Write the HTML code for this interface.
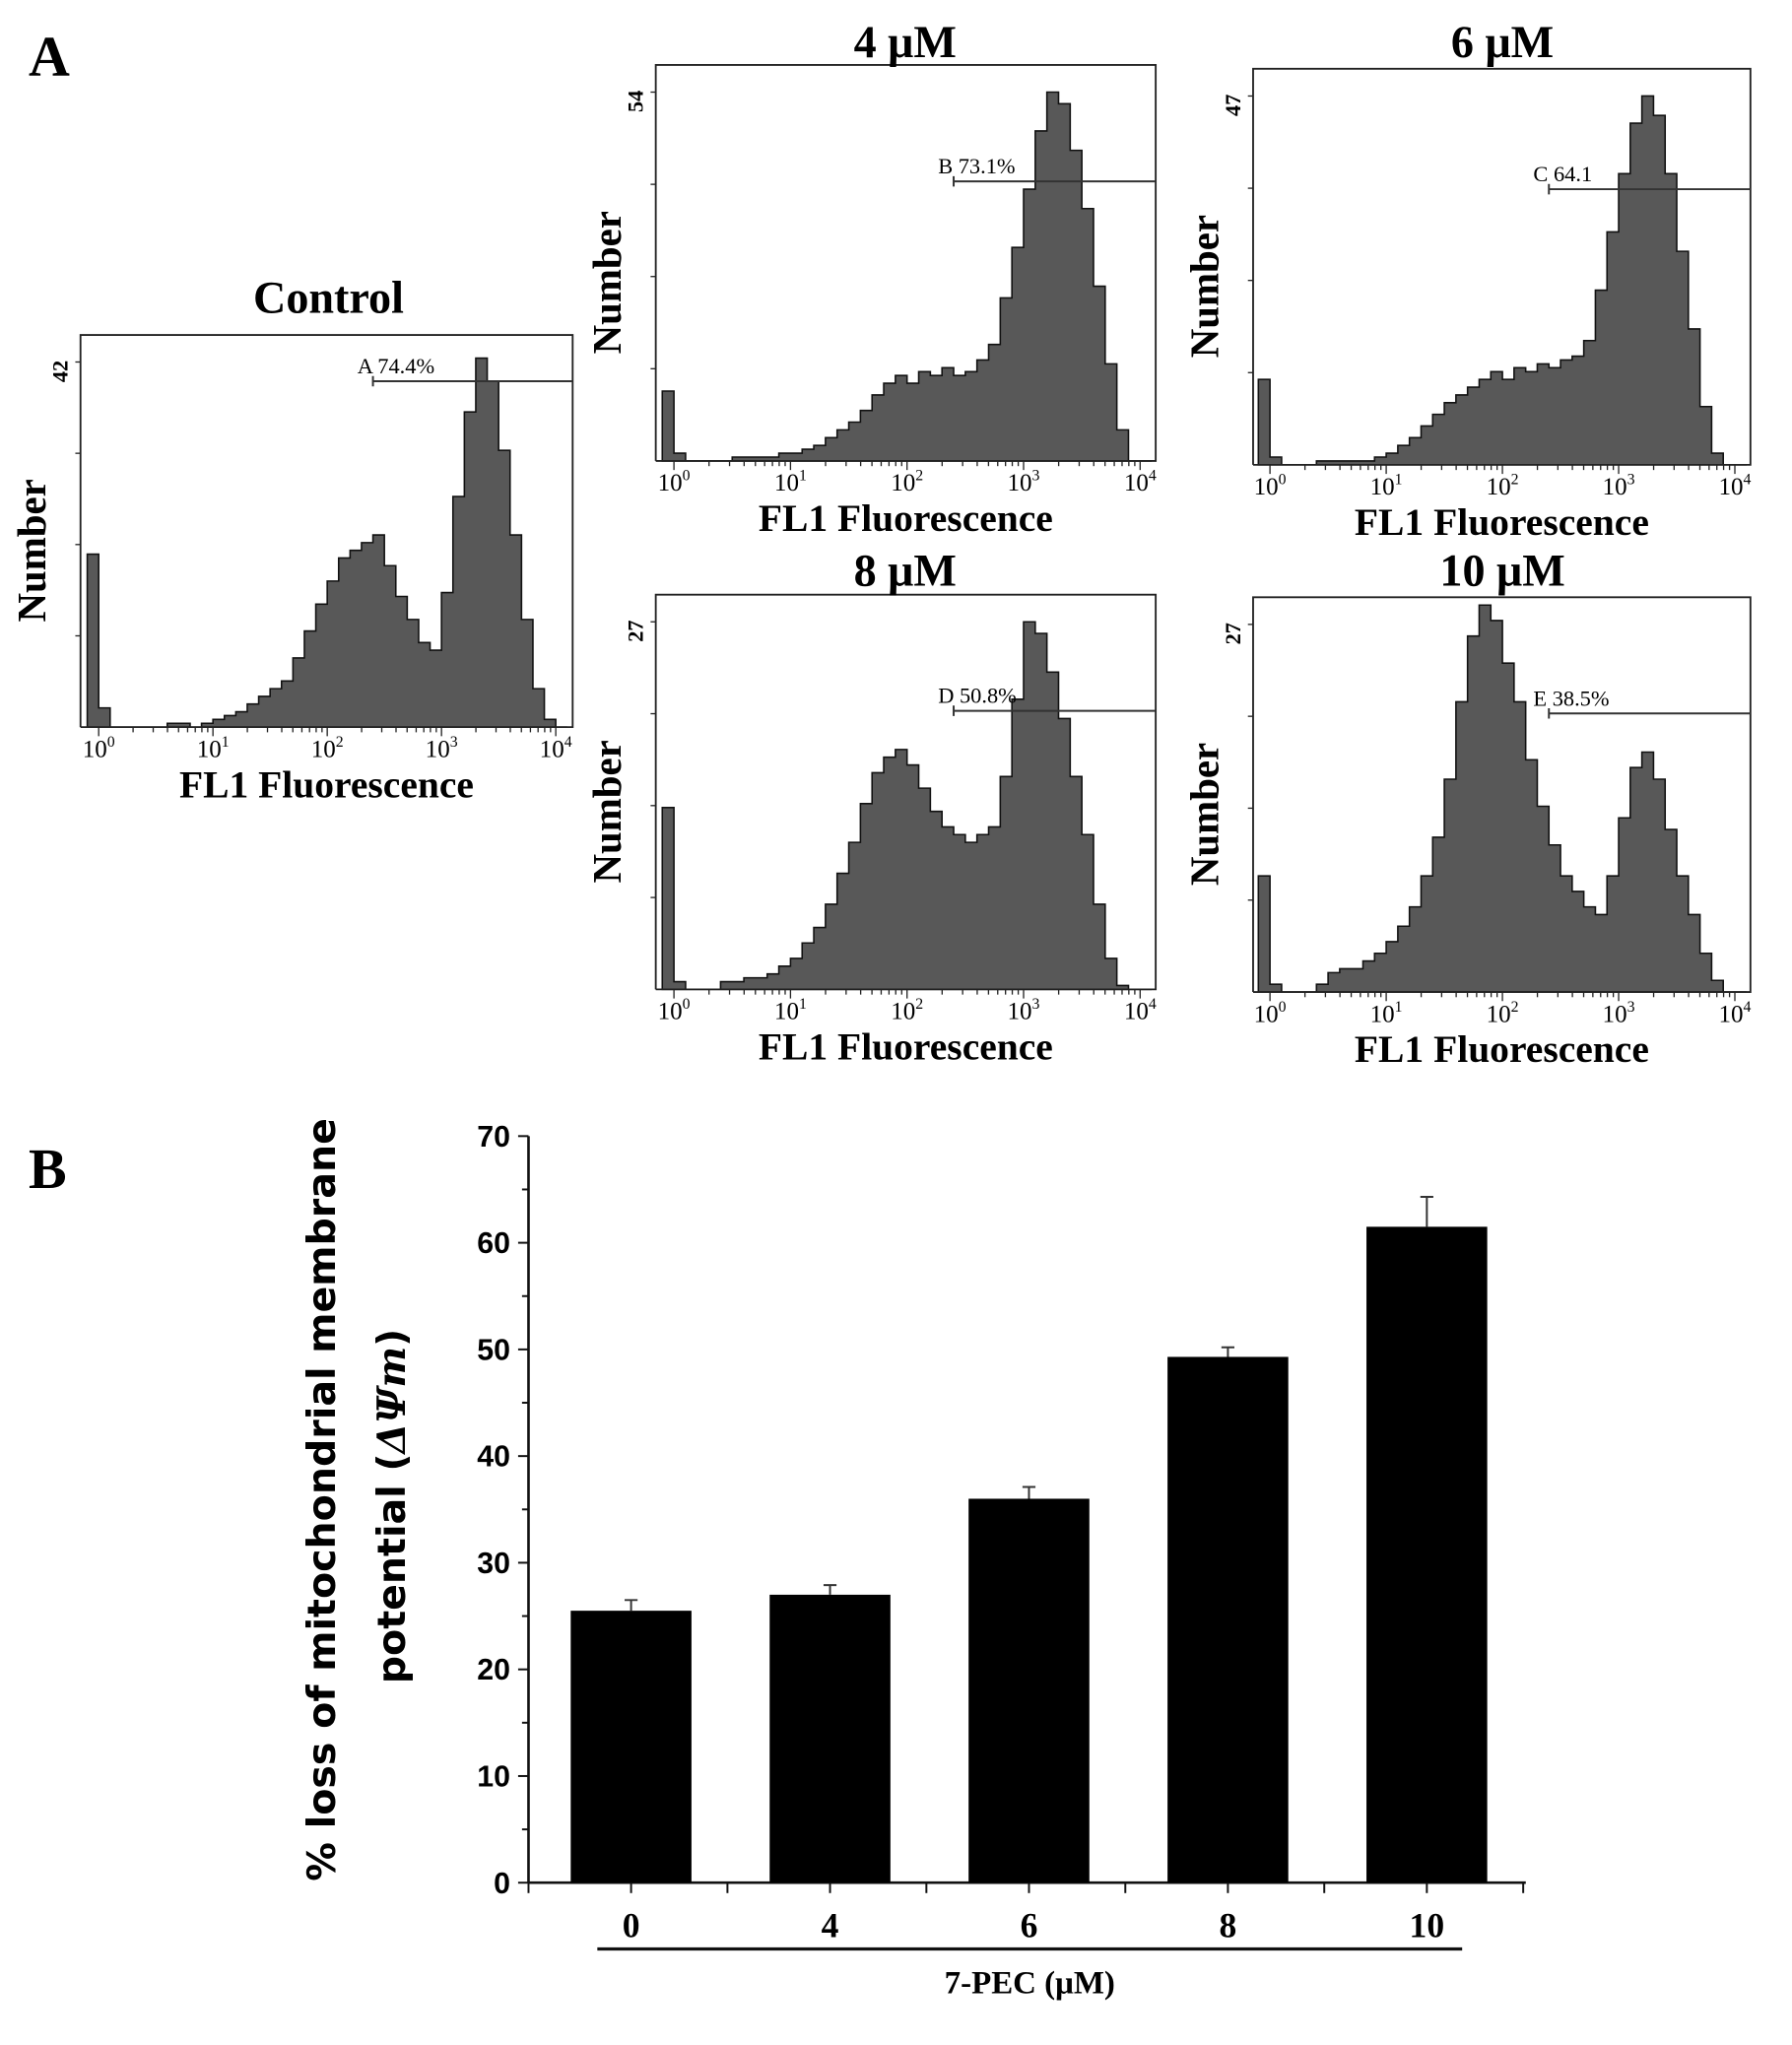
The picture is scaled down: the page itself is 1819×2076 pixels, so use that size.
<!DOCTYPE html>
<html><head><meta charset="utf-8"><style>
html,body{margin:0;padding:0;background:#fff;}
svg{display:block;}
</style></head><body>
<svg id="fig" xmlns="http://www.w3.org/2000/svg" width="1819" height="2076" viewBox="0 0 1380 1575" preserveAspectRatio="none">
<text x="22" y="58" font-family="Liberation Serif, serif" font-size="44" font-weight="bold">A</text>
<text x="22" y="915" font-family="Liberation Serif, serif" font-size="44" font-weight="bold">B</text>
<g id="hists"></g>
<g id="bars"></g>
</svg>
<script>
// ---- Histogram data (fraction of y max), bins every 0.1 decade from -0.1 to 4.0 ----
const binStart = -0.1;
const binStep = 0.1;
const controlCounts = [0.45,0.05,0,0,0,0,0,0.01,0.01,0,0.01,0.02,0.03,0.04,0.06,0.08,0.1,0.12,0.18,0.25,0.32,0.38,0.44,0.46,0.48,0.5,0.42,0.34,0.28,0.22,0.2,0.35,0.6,0.82,0.96,0.9,0.72,0.5,0.28,0.1,0.02,0];
const uM4Counts = [0.18,0.02,0,0,0,0,0.01,0.01,0.01,0.01,0.02,0.02,0.03,0.04,0.06,0.08,0.1,0.13,0.17,0.2,0.22,0.2,0.23,0.22,0.24,0.22,0.23,0.26,0.3,0.42,0.55,0.7,0.85,0.95,0.92,0.8,0.65,0.45,0.25,0.08,0,0];
const uM6Counts = [0.22,0.02,0,0,0,0.01,0.01,0.01,0.01,0.01,0.02,0.03,0.05,0.07,0.1,0.13,0.16,0.18,0.2,0.22,0.24,0.22,0.25,0.24,0.26,0.25,0.27,0.28,0.32,0.45,0.6,0.75,0.88,0.95,0.9,0.75,0.55,0.35,0.15,0.03,0,0];
const uM8Counts = [0.47,0.02,0,0,0,0.02,0.02,0.03,0.03,0.04,0.06,0.08,0.12,0.16,0.22,0.3,0.38,0.48,0.56,0.6,0.62,0.58,0.52,0.46,0.42,0.4,0.38,0.4,0.42,0.55,0.75,0.95,0.92,0.82,0.7,0.55,0.4,0.22,0.08,0.01,0,0];
const uM10Counts = [0.3,0.02,0,0,0,0.02,0.05,0.06,0.06,0.08,0.1,0.13,0.17,0.22,0.3,0.4,0.55,0.75,0.92,1.0,0.96,0.85,0.75,0.6,0.48,0.38,0.3,0.26,0.22,0.2,0.3,0.45,0.58,0.62,0.55,0.42,0.3,0.2,0.1,0.03,0,0];
const histTitles = ["Control","4 μM","6 μM","8 μM","10 μM"];
const histYMax = ["42","54","47","27","27"];
const gateLabels = ["A  74.4%","B 73.1%","C 64.1","D 50.8%","E 38.5%"];
const gateStart = [2.4,2.4,2.4,2.4,2.4];
const gateLevel = [0.9,0.72,0.71,0.72,0.72];

const NS = "http://www.w3.org/2000/svg";
function mk(tag, attrs, parent){const e=document.createElementNS(NS,tag);for(const k in attrs)e.setAttribute(k,attrs[k]);parent.appendChild(e);return e;}

const panels = [
 {x0:62,x1:441,y0:258,y1:560,d0:76,d1:428,data:controlCounts,tx:253,ty:241},
 {x0:505,x1:890,y0:50,y1:355,d0:519,d1:878,data:uM4Counts,tx:697,ty:44},
 {x0:965,x1:1348,y0:53,y1:358,d0:978,d1:1336,data:uM6Counts,tx:1157,ty:44},
 {x0:505,x1:890,y0:458,y1:762,d0:519,d1:878,data:uM8Counts,tx:697,ty:451},
 {x0:965,x1:1348,y0:460,y1:764,d0:978,d1:1336,data:uM10Counts,tx:1157,ty:451}
];
const hg = document.getElementById('hists');
panels.forEach((p,i)=>{
  const g = mk('g',{},hg);
  
  
  const xs = v => p.d0 + (v)*(p.d1-p.d0)/4;
  const ys = f => p.y1 - f*(p.y1-p.y0-6);
  let d = 'M'+Math.max(p.x0+1,xs(binStart))+','+p.y1;
  p.data.forEach((c,k)=>{
    const a = Math.max(p.x0+1,xs(binStart+k*binStep)), b = Math.min(p.x1-1,xs(binStart+(k+1)*binStep));
    d += ' L'+a+','+ys(c)+' L'+b+','+ys(c);
  });
  d += ' L'+Math.min(p.x1-1,xs(binStart+p.data.length*binStep))+','+p.y1+' Z';
  const h = mk('path',{d:d,fill:'#585858',stroke:'#111','stroke-width':1.2},g);
  
  
  const fr = mk('path',{d:`M${p.x0},${p.y1} L${p.x0},${p.y0} L${p.x1},${p.y0} L${p.x1},${p.y1} L${p.x0},${p.y1}`,fill:'none',stroke:'#222','stroke-width':1.4},g);
  
  
  for(let dec=0;dec<4;dec++){for(let m=1;m<10;m++){const xv=xs(dec+Math.log10(m));mk('line',{x1:xv,y1:p.y1,x2:xv,y2:p.y1+(m==1?7:4),stroke:'#222','stroke-width':1},g);}}
  mk('line',{x1:xs(4),y1:p.y1,x2:xs(4),y2:p.y1+7,stroke:'#222','stroke-width':1},g);
  for(let dec=0;dec<=4;dec++){
    const t = mk('text',{x:xs(dec),y:p.y1+23,'font-family':'Liberation Serif, serif','font-size':19,'text-anchor':'middle'},g);
    
    
    t.innerHTML='10<tspan dy="-8" font-size="12">'+dec+'</tspan>';
  }
  [0.25,0.5,0.75,1].forEach(f=>{const yv=ys(f*0.95);mk('line',{x1:p.x0-4,y1:yv,x2:p.x0,y2:yv,stroke:'#222'},g);});
  const xl = mk('text',{x:(p.x0+p.x1)/2,y:p.y1+54,'font-family':'Liberation Serif, serif','font-size':30,'font-weight':'bold','text-anchor':'middle'},g);
  
  
  xl.textContent='FL1 Fluorescence';
  const cy=(p.y0+p.y1)/2+15;
  const yl = mk('text',{x:p.x0-27,y:cy,'font-family':'Liberation Serif, serif','font-size':31,'font-weight':'bold','text-anchor':'middle',transform:`rotate(-90 ${p.x0-27} ${cy})`},g);
  
  
  yl.textContent='Number';
  const ym = mk('text',{x:p.x0-10,y:p.y0+28,'font-family':'Liberation Serif, serif','font-size':17,'font-weight':'bold','text-anchor':'middle',transform:`rotate(-90 ${p.x0-10} ${p.y0+28})`},g);
  
  
  ym.textContent=histYMax[i];
  const tt = mk('text',{x:p.tx,y:p.ty,'font-family':'Liberation Serif, serif','font-size':35,'font-weight':'bold','text-anchor':'middle'},g);
  
  
  tt.textContent=histTitles[i];
  const gy = ys(gateLevel[i]), gx = xs(gateStart[i]);
  const gl = mk('path',{d:`M${gx},${gy-4} L${gx},${gy+4} M${gx},${gy} L${p.x1},${gy}`,stroke:'#333','stroke-width':1.5,fill:'none'},g);
  
  
  const gt = mk('text',{x:gx-12,y:gy-6,'font-family':'Liberation Serif, serif','font-size':17},g);
  
  
  gt.textContent=gateLabels[i];
});

// ---- Bar chart ----
const barCategories = ["0","4","6","8","10"];
const barValues = [25.5,27.0,36.0,49.3,61.5];
const barErrors = [1.0,0.9,1.1,0.9,2.8];
const yTicks = [0,10,20,30,40,50,60,70];
const bg = document.getElementById('bars');
const ax0=407, ax1=1175, yBase=1450, yTop=875;
const yScale = v => yBase - v*(yBase-yTop)/70;
const xScale = i => 486 + i*153.2;
mk('line',{x1:ax0,y1:yTop,x2:ax0,y2:yBase,stroke:'#111','stroke-width':2},bg);
mk('line',{x1:ax0,y1:yBase,x2:ax1,y2:yBase,stroke:'#111','stroke-width':2},bg);
for(let v=0;v<=70;v+=5){mk('line',{x1:ax0-(v%10==0?8:5),y1:yScale(v),x2:ax0,y2:yScale(v),stroke:'#111','stroke-width':1.5},bg);}
yTicks.forEach(v=>{const t=mk('text',{x:ax0-14,y:yScale(v)+8,'font-family':'Liberation Sans Narrow, Liberation Sans, sans-serif','font-size':23,'font-weight':'bold','text-anchor':'end'},bg);
  
  
  t.textContent=v;});
for(let k=0;k<=5;k++){const xv=ax0+k*153.2;mk('line',{x1:xv,y1:yBase,x2:xv,y2:yBase+8,stroke:'#111','stroke-width':1.5},bg);}
barCategories.forEach((c,i)=>{
  const cx=xScale(i), w=93;
  const r=mk('rect',{x:cx-w/2,y:yScale(barValues[i]),width:w,height:yBase-yScale(barValues[i]),fill:'#000'},bg);
  
  
  const e=mk('path',{d:`M${cx},${yScale(barValues[i])} L${cx},${yScale(barValues[i]+barErrors[i])} M${cx-5},${yScale(barValues[i]+barErrors[i])} L${cx+5},${yScale(barValues[i]+barErrors[i])}`,stroke:'#333','stroke-width':1.5,fill:'none'},bg);
  
  
  mk('line',{x1:cx,y1:yBase,x2:cx,y2:yBase+8,stroke:'#111','stroke-width':1.5},bg);
  const t=mk('text',{x:cx,y:1492,'font-family':'Liberation Serif, serif','font-size':27,'font-weight':'bold','text-anchor':'middle'},bg);
  
  
  t.textContent=c;
});
const ul=mk('line',{x1:460,y1:1501,x2:1126,y2:1501,stroke:'#111','stroke-width':2.5},bg);


const xt=mk('text',{x:793,y:1535,'font-family':'Liberation Serif, serif','font-size':25,'font-weight':'bold','text-anchor':'middle'},bg);


xt.textContent='7-PEC (μM)';
const y1=mk('text',{x:258,y:1155,'font-family':'DejaVu Sans, sans-serif','font-size':30,'font-weight':'bold','text-anchor':'middle',transform:'rotate(-90 258 1155)'},bg);


y1.textContent='% loss of mitochondrial membrane';
const y2=mk('text',{x:312,y:1160,'font-family':'DejaVu Sans, sans-serif','font-size':30,'font-weight':'bold','text-anchor':'middle',transform:'rotate(-90 312 1160)'},bg);


y2.innerHTML='potential  (<tspan font-style="italic" font-family="DejaVu Serif, serif">ΔΨm</tspan>)';
</script>
</body></html>
